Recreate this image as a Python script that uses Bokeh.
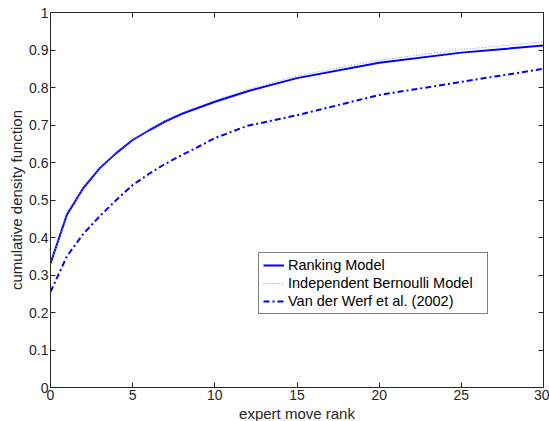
from bokeh.plotting import figure
from bokeh.models import LinearAxis, FixedTicker, Range1d, Legend, LegendItem, Title
from bokeh.embed import file_html
from bokeh.resources import INLINE

rank = [0, 1, 2, 3, 4, 5, 6, 7, 8, 9, 10, 12, 15, 20, 25, 30]
ranking = [0.331, 0.461, 0.532, 0.585, 0.625, 0.66, 0.686, 0.71, 0.73, 0.746, 0.762, 0.79, 0.825, 0.866, 0.893, 0.912]
bernoulli = [0.331, 0.461, 0.532, 0.585, 0.625, 0.66, 0.687, 0.711, 0.732, 0.749, 0.766, 0.795, 0.831, 0.873, 0.901, 0.922]
werf = [0.255, 0.35, 0.41, 0.457, 0.5, 0.54, 0.57, 0.597, 0.62, 0.642, 0.665, 0.698, 0.726, 0.78, 0.815, 0.85]

x_ticks = [0, 5, 10, 15, 20, 25, 30]
y_ticks = [0, 0.1, 0.2, 0.3, 0.4, 0.5, 0.6, 0.7, 0.8, 0.9, 1.0]
y_tick_labels = ["0", "0.1", "0.2", "0.3", "0.4", "0.5", "0.6", "0.7", "0.8", "0.9", "1"]
x_label = "expert move rank"
y_label = "cumulative density function"

FONT = "Liberation Sans"
BLUE = "#0000ff"
DARK = "#262626"

p = figure(width=549, height=421, output_backend="svg", toolbar_location=None,
           x_range=Range1d(0, 30), y_range=Range1d(0, 1),
           min_border_left=50, min_border_right=6, min_border_top=12, min_border_bottom=34)
p.grid.visible = False
p.outline_line_color = DARK
p.outline_line_width = 1
p.background_fill_color = "white"
p.border_fill_color = "white"

r1 = p.line(rank, ranking, line_color=BLUE, line_width=2)
r2 = p.line(rank, bernoulli, line_color="#8080ff", line_width=1, line_dash="1 2")
r3 = p.line(rank, werf, line_color=BLUE, line_width=2, line_dash="6 3 2 3")

bottom = p.xaxis[0]
left = p.yaxis[0]
bottom.ticker = FixedTicker(ticks=x_ticks)
left.ticker = FixedTicker(ticks=y_ticks)
left.major_label_overrides = {t: l for t, l in zip(y_ticks, y_tick_labels)}

top = LinearAxis(ticker=FixedTicker(ticks=x_ticks),
                 major_label_overrides={t: "" for t in x_ticks})
right = LinearAxis(ticker=FixedTicker(ticks=y_ticks),
                   major_label_overrides={t: "" for t in y_ticks})
p.add_layout(top, "above")
p.add_layout(right, "right")

for ax in [bottom, left, top, right]:
    ax.major_tick_in = 5
    ax.major_tick_out = 0
    ax.minor_tick_line_color = None
    ax.axis_line_color = DARK
    ax.major_tick_line_color = DARK
    ax.major_label_text_font = FONT
    ax.major_label_text_font_size = "14px"
    ax.major_label_text_color = DARK
    ax.major_label_standoff = 2
for ax in [top, right]:
    ax.major_label_standoff = 0
    ax.major_label_text_font_size = "1px"

xt = Title(text=x_label, align="center", text_font=FONT, text_font_size="15px",
           text_font_style="normal", text_color=DARK, standoff=0, offset=0)
yt = Title(text=y_label, align="center", text_font=FONT, text_font_size="15px",
           text_font_style="normal", text_color=DARK, standoff=4, offset=0)
p.add_layout(xt, "below")
p.add_layout(yt, "left")

legend = Legend(items=[
    LegendItem(label="Ranking Model", renderers=[r1]),
    LegendItem(label="Independent Bernoulli Model", renderers=[r2]),
    LegendItem(label="Van der Werf et al. (2002)", renderers=[r3]),
], location=(208, 73))
legend.label_text_font = FONT
legend.label_text_font_size = "14.5px"
legend.label_text_color = "#000000"
legend.border_line_color = "#000000"
legend.border_line_width = 1
legend.background_fill_alpha = 1
legend.glyph_width = 21
legend.glyph_height = 16
legend.label_height = 16
legend.label_width = 195
legend.label_standoff = 4
legend.spacing = 2
legend.padding = 4
legend.margin = 0
p.add_layout(legend, "center")

open("out.html", "w").write(file_html(p, INLINE))
